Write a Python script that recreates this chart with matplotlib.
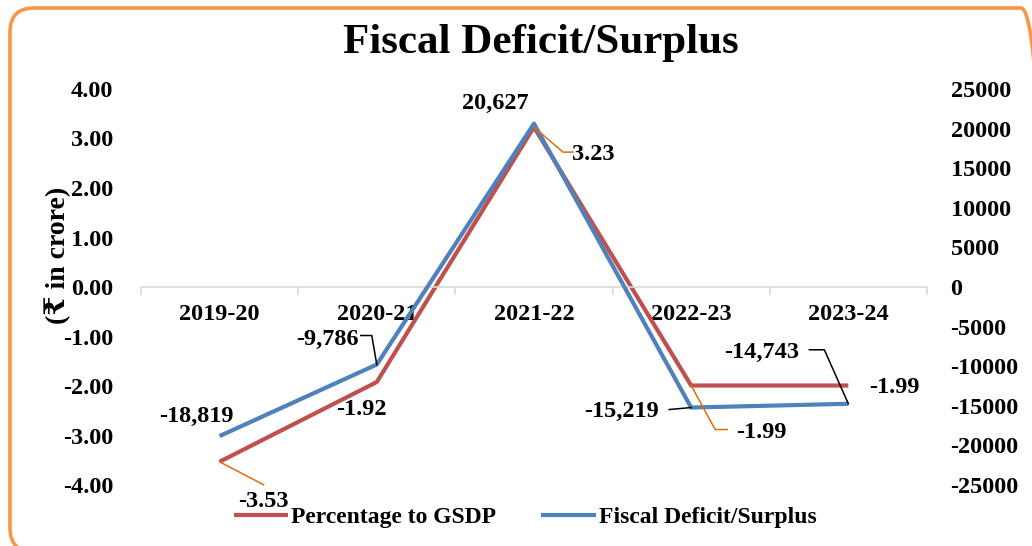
import matplotlib
matplotlib.use('Agg')
import matplotlib.pyplot as plt
from matplotlib.patches import FancyBboxPatch
from matplotlib.lines import Line2D
import numpy as np

matplotlib.rcParams['font.family'] = ['Liberation Serif', 'DejaVu Serif', 'DejaVu Sans']
matplotlib.rcParams['font.weight'] = 'bold'
matplotlib.rcParams['font.size'] = 17.5

years = ['2019-20', '2020-21', '2021-22', '2022-23', '2023-24']
pct_gsdp = [-3.53, -1.92, 3.23, -1.99, -1.99]
fiscal = [-18819, -9786, 20627, -15219, -14743]

red = '#C0504D'
blue = '#4F81BD'
orange = '#E46C0A'
fs = 17.5

fig = plt.figure(figsize=(10.32, 5.46), dpi=100)

# rounded orange frame (runs off the right and bottom edges like the source)
frame = FancyBboxPatch((10, -6), 1035, 546 - 8 + 6, boxstyle='round,pad=0,rounding_size=24',
                       transform=None, fill=False, edgecolor='#F79646', linewidth=2.6, zorder=0)
fig.patches.append(frame)

ax = fig.add_axes([0.1366, 0.1117, 0.7616, 0.7253])
ax2 = ax.twinx()

x = np.arange(len(years))
ax.plot(x, pct_gsdp, color=red, lw=3, solid_capstyle='butt', label='Percentage to GSDP')
ax2.plot(x, fiscal, color=blue, lw=3, solid_capstyle='butt', label='Fiscal Deficit/Surplus')

ax.set_xlim(-0.5, len(years) - 0.5)
ax.set_ylim(-4, 4)
ax.set_yticks(np.arange(-4, 4.01, 1))
ax.set_yticklabels([f'{v:.2f}' for v in np.arange(-4, 4.01, 1)])
ax2.set_ylim(-25000, 25000)
ax2.set_yticks(np.arange(-25000, 25001, 5000))
ax2.set_yticklabels([f'{v:d}' for v in range(-25000, 25001, 5000)])

for a in (ax, ax2):
    for s in ['top', 'left', 'right', 'bottom']:
        a.spines[s].set_visible(False)
ax.spines['bottom'].set_visible(True)
ax.spines['bottom'].set_position(('data', 0))
ax.spines['bottom'].set_color('#d9d9d9')
ax.spines['bottom'].set_linewidth(1.2)

ax.set_xticks(x)
ax.set_xticklabels(years)
ax.set_xticks(np.arange(-0.5, len(years), 1), minor=True)
ax.tick_params(axis='x', which='major', length=0, pad=12, labelsize=fs)
ax.tick_params(axis='x', which='minor', length=6, color='#d9d9d9', width=1.2)
ax.tick_params(axis='y', length=0, pad=20, labelsize=fs)
ax2.tick_params(axis='y', length=0, pad=17, labelsize=fs)

fig.text(0.056, 0.533, '(₹ in crore)', rotation=90, ha='center', va='center', fontsize=20, fontweight='bold')
fig.text(0.524, 0.922, 'Fiscal Deficit/Surplus', ha='center', va='center', fontsize=31, fontweight='bold')

# data labels: (axis, index, text, text offset px, leader path px, leader colour)
fig.canvas.draw()
labels = [
    (ax2, 0, '-18,819', (-23, 20), None, None),
    (ax2, 1, '-9,786', (-49, 25), [(0, 0), (-5, 29), (-16, 29)], 'black'),
    (ax2, 2, '20,627', (-39, 20), None, None),
    (ax2, 3, '-15,219', (-70, -4), [(0, 0), (-22, -2)], 'black'),
    (ax2, 4, '-14,743', (-87, 51), [(0, 0), (-24, 54), (-39, 54)], 'black'),
    (ax, 0, f'{pct_gsdp[0]:.2f}', (44, -40), [(0, 0), (44, -23)], orange),
    (ax, 1, f'{pct_gsdp[1]:.2f}', (-15, -27), None, None),
    (ax, 2, f'{pct_gsdp[2]:.2f}', (59, -27), [(0, 0), (29, -25), (39, -25)], orange),
    (ax, 3, f'{pct_gsdp[3]:.2f}', (70, -47), [(0, 0), (24, -44), (36, -44)], orange),
    (ax, 4, f'{pct_gsdp[4]:.2f}', (46, -2), None, None),
]
for a, i, txt, off, path, col in labels:
    val = pct_gsdp[i] if a is ax else fiscal[i]
    px, py = a.transData.transform((x[i], val))
    a.annotate(txt, xy=(x[i], val), xytext=off, textcoords='offset pixels',
               ha='center', va='center', fontsize=fs, fontweight='bold', zorder=5)
    if path:
        xs = [px + p[0] for p in path]
        ys = [py + p[1] for p in path]
        fig.lines.append(Line2D(xs, ys, transform=None, color=col, lw=1.1))

h1, l1 = ax.get_legend_handles_labels()
h2, l2 = ax2.get_legend_handles_labels()
fig.legend(h1 + h2, l1 + l2, loc='center', bbox_to_anchor=(0.509, 0.053), ncol=2, frameon=False,
           fontsize=17, handlelength=2.3, handletextpad=0.15, columnspacing=1.9)

plt.savefig('out.png', dpi=100)
